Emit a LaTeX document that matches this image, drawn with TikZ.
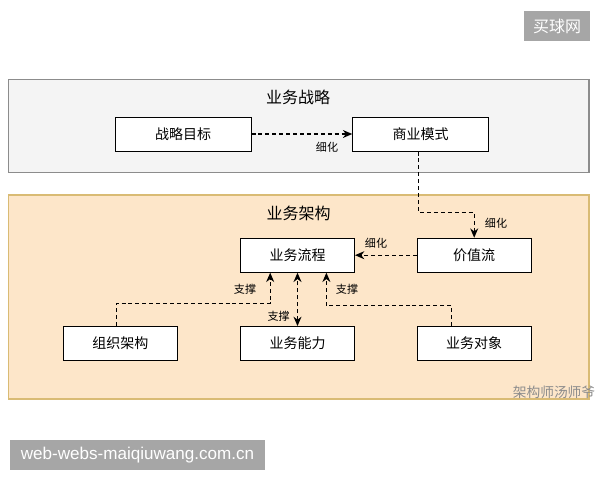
\documentclass[tikz,border=0pt]{standalone}
\usepackage{fontspec}
\setmainfont{Noto Sans CJK SC}
\newfontfamily\latinsans{Liberation Sans}
\usetikzlibrary{arrows.meta,calc}
\definecolor{grayfill}{HTML}{F4F4F4}
\definecolor{grayline}{HTML}{8C8C8C}
\definecolor{orfill}{HTML}{FDE6C9}
\definecolor{orline}{HTML}{D9BB74}
\definecolor{wmbox}{HTML}{A6A6A6}
\tikzset{
  container/.style={draw, line width=0.9pt},
  box/.style={draw=black, fill=white, line width=0.75pt, minimum width=85.5pt, minimum height=25.5pt, inner sep=0pt, font=\fontsize{10.5pt}{12pt}\selectfont},
  widebox/.style={box, minimum width=102pt},
  title/.style={font=\fontsize{12pt}{14pt}\selectfont},
  lab/.style={font=\fontsize{8.3pt}{10pt}\selectfont, inner sep=1pt},
  conn/.style={dashed, dash pattern=on 3pt off 2.2pt, line width=0.8pt, -{Stealth[length=7pt,width=6pt]}},
  wm/.style={fill=wmbox, text=white, inner sep=0pt}
}
\begin{document}
\begin{tikzpicture}[x=0.75pt,y=-0.75pt]
\useasboundingbox (0,0) rectangle (600,480);
\fill[white] (0,0) rectangle (600,480);
% containers
\draw[container, draw=grayline, fill=grayfill] (8.5,79.5) rectangle (589,172.5);
\draw[container, draw=orline, fill=orfill] (8.5,195) rectangle (589,399);
\node[title] (t1) at (298,97) {业务战略};
\node[title] (t2) at (298.5,213) {业务架构};
% boxes
\node[widebox] (zlmb) at (183,134) {战略目标};
\node[widebox] (symc) at (420.7,134) {商业模式};
\node[box] (jzl) at (474.2,255.2) {价值流};
\node[box] (ywlc) at (297.5,255.2) {业务流程};
\node[box] (zzjg) at (120.4,343.5) {组织架构};
\node[box] (ywnl) at (297.5,343.5) {业务能力};
\node[box] (ywdx) at (474.2,343.5) {业务对象};
% connectors
\draw[conn] (zlmb.east) -- (symc.west);
\node[lab] (l1) at (327,147.5) {细化};
\draw[conn] ($(symc.south)+(-2,0)$) -- ++(0,61) -| (jzl.north);
\node[lab] (l2) at (496,223.5) {细化};
\draw[conn] (jzl.west) -- (ywlc.east);
\node[lab] (l3) at (376,243.5) {细化};
\draw[conn] ($(zzjg.north)+(-4,0)$) -- ++(0,-22.6) -| ($(ywlc.south)+(-27.3,0)$);
\node[lab] (l4) at (245,289.5) {支撑};
\draw[conn, {Stealth[length=7pt,width=6pt]}-{Stealth[length=7pt,width=6pt]}] (ywnl.north) -- (ywlc.south);
\node[lab] (l5) at (278.6,316) {支撑};
\draw[conn] ($(ywdx.north)+(-22.6,0)$) -- ++(0,-20.3) -| ($(ywlc.south)+(28.9,0)$);
\node[lab] (l6) at (347,289.5) {支撑};
% watermarks
\node[wm, minimum width=49.5pt, minimum height=23pt, font=\fontsize{12pt}{14pt}\selectfont] (wm1) at (557,26) {买球网};
\node[wm, minimum width=191pt, minimum height=22.5pt, font=\latinsans\fontsize{12.8pt}{14pt}\selectfont] (wm2) at (137.5,455) {web-webs-maiqiuwang.com.cn};
\node[text=gray!90, font=\fontsize{10.3pt}{12pt}\selectfont, inner sep=0pt] (wm3) at (554,392) {架构师汤师爷};
\end{tikzpicture}
\end{document}
